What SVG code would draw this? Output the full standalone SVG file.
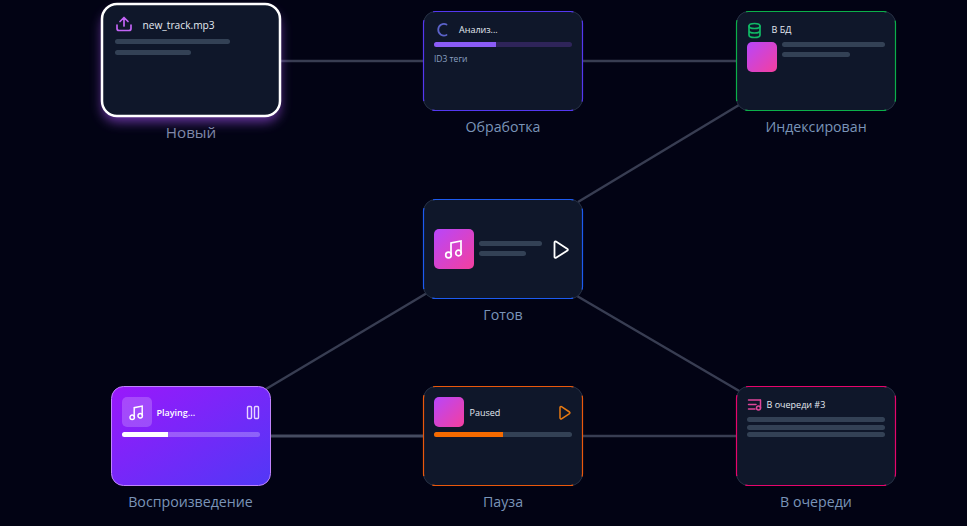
<svg xmlns="http://www.w3.org/2000/svg" width="967" height="526" viewBox="0 0 967 526">
<defs>
<linearGradient id="thumb" x1="0" y1="0" x2="1" y2="1"><stop offset="0" stop-color="#b846fb"/><stop offset="1" stop-color="#f43f9e"/></linearGradient>
<linearGradient id="play" x1="0" y1="0" x2="1" y2="1"><stop offset="0" stop-color="#9a18fb"/><stop offset="1" stop-color="#5138f6"/></linearGradient>
<filter id="glow" x="-30%" y="-30%" width="160%" height="160%"><feGaussianBlur stdDeviation="6"/></filter>
<g id="note"><path d="M-3.500 6V-6L6.500 -8V4" fill="none"/><circle cx="-6" cy="6" r="2.800" fill="none"/><circle cx="4" cy="4" r="2.800" fill="none"/></g>
</defs>
<style>
text{font-family:"Open Sans","Noto Sans","Liberation Sans",sans-serif}
.card{fill:#0f172a;stroke:#263044;stroke-width:1}
.side{fill:none;stroke-width:1.200;stroke-dasharray:141 12.850 81 12.850;stroke-dashoffset:3}
.bar{fill:#334155}
.lbl{font-size:14.200px;fill:#7a94b8;text-anchor:middle}
.t{font-size:9.500px;fill:#e4e9f1;font-weight:500}
.ic{fill:none;stroke-width:1.700;stroke-linecap:round;stroke-linejoin:round}
.edge{stroke:#383d52;stroke-width:2.500;fill:none}
</style>
<rect width="967" height="526" fill="#020314"/>
<g id="connectors">
<path class="edge" d="M281 61H423"/>
<path class="edge" d="M583 61H736"/>
<path class="edge" d="M578 202L739 105"/>
<path class="edge" d="M427 293L266 389"/>
<path class="edge" d="M577 296L741 392"/>
<path class="edge" d="M271 436H423" style="stroke:#454b60;stroke-width:3"/>
<path class="edge" d="M583 436H736"/>
</g>
<g id="node-new">
<rect x="102" y="12" width="178" height="110" rx="15" fill="#a855f7" opacity=".6" filter="url(#glow)"/>
<rect class="card" x="102" y="4" width="178" height="112" rx="15" style="stroke:#fff;stroke-width:2.500"/>
<g class="ic" stroke="#c264f5"><path d="M117 25v3.500a2 2 0 0 0 2 2h10a2 2 0 0 0 2-2V25M124 26V18M120 21.500l4-4 4 4"/></g>
<text class="t" x="142.500" y="29" style="font-size:10.200px;font-weight:400">new_track.mp3</text>
<rect class="bar" x="115" y="39" width="115" height="5" rx="2.500"/>
<rect class="bar" x="115" y="50" width="76" height="5" rx="2.500"/>
<text class="lbl" x="191" y="138" style="font-size:15.200px;fill:#7f87a8">Новый</text>
</g>
<g id="node-processing">
<rect class="card" x="423.500" y="11.500" width="159" height="99" rx="12"/>
<rect class="side" x="423.500" y="11.500" width="159" height="99" rx="12" stroke="#5438f0"/>
<path class="ic" stroke="#5b62c9" d="M446.500 24.500A5.800 5.800 0 1 0 446.500 35" style="stroke-width:1.800"/>
<text class="t" x="459" y="33" style="font-size:9px">Анализ...</text>
<rect x="434" y="42" width="138" height="5" rx="2.500" fill="#2e2459"/>
<path d="M436.500 42H496V47H436.500a2.500 2.500 0 0 1 0-5z" fill="#8b5cf6"/>
<text x="434" y="62" style="font-size:8.500px" fill="#8aa0c2">ID3 теги</text>
<text class="lbl" x="503" y="132">Обработка</text>
</g>
<g id="node-indexed">
<rect class="card" x="736.500" y="11.500" width="159" height="99" rx="12"/>
<rect class="side" x="736.500" y="11.500" width="159" height="99" rx="12" stroke="#0bb04a"/>
<g class="ic" stroke="#10b965"><ellipse cx="754.500" cy="26" rx="5.500" ry="2.500"/><path d="M749 26v9c0 1.400 2.500 2.500 5.500 2.500s5.500-1.100 5.500-2.500v-9M749 30.500c0 1.400 2.500 2.500 5.500 2.500s5.500-1.100 5.500-2.500"/></g>
<text class="t" x="771.500" y="33" style="font-size:9px">В БД</text>
<rect x="747" y="42" width="30" height="30" rx="5" fill="url(#thumb)"/>
<rect class="bar" x="782" y="42" width="103" height="5" rx="2.500"/>
<rect class="bar" x="782" y="52" width="68" height="5" rx="2.500"/>
<text class="lbl" x="816" y="132">Индексирован</text>
</g>
<g id="node-ready">
<rect class="card" x="423.500" y="199.500" width="159" height="99" rx="12"/>
<rect class="side" x="423.500" y="199.500" width="159" height="99" rx="12" stroke="#1d5bf0"/>
<rect x="434" y="229" width="40" height="40" rx="5" fill="url(#thumb)"/>
<use href="#note" x="454.500" y="249" stroke="#fff" stroke-width="1.700"/>
<rect class="bar" x="479" y="241" width="63" height="5" rx="2.500"/>
<rect class="bar" x="479" y="251" width="47" height="5" rx="2.500"/>
<path class="ic" stroke="#fff" d="M554.500 242.500v14.500a1 1 0 0 0 1.500.8l11.500-7.300a1 1 0 0 0 0-1.600L556 241.600a1 1 0 0 0-1.500.9z" style="stroke-width:1.800"/>
<text class="lbl" x="503" y="320">Готов</text>
</g>
<g id="node-playing">
<rect x="111.500" y="386.500" width="159" height="99" rx="12" fill="url(#play)" stroke="#c084fc"/>
<rect x="122" y="397" width="30" height="30" rx="5" fill="#fff" fill-opacity=".2"/>
<use href="#note" transform="translate(137 412.500) scale(.8)" stroke="#fff" stroke-width="1.800"/>
<text x="156.500" y="416" style="font-size:9px;font-weight:600" fill="#fff">Playing...</text>
<rect x="247.500" y="406.500" width="4" height="12" rx="1" fill="none" stroke="#e9d5ff" stroke-width="1.400"/>
<rect x="254.500" y="406.500" width="4" height="12" rx="1" fill="none" stroke="#e9d5ff" stroke-width="1.400"/>
<rect x="122" y="432" width="138" height="5" rx="2.500" fill="#fff" fill-opacity=".25"/>
<path d="M124.500 432H168V437H124.500a2.500 2.500 0 0 1 0-5z" fill="#fff"/>
<text class="lbl" x="190.500" y="507">Воспроизведение</text>
</g>
<g id="node-paused">
<rect class="card" x="423.500" y="386.500" width="159" height="99" rx="12"/>
<rect class="side" x="423.500" y="386.500" width="159" height="99" rx="12" stroke="#ea580c"/>
<rect x="434" y="397" width="30" height="30" rx="5" fill="url(#thumb)"/>
<text class="t" x="469.500" y="416" style="font-size:9px">Paused</text>
<path class="ic" stroke="#e87a12" d="M560 407.500v10.500a1 1 0 0 0 1.500.8l8-5.200a1 1 0 0 0 0-1.600l-8-5.300a1 1 0 0 0-1.500.8z" style="stroke-width:1.500"/>
<rect class="bar" x="434" y="432" width="138" height="5" rx="2.500"/>
<path d="M436.500 432H503V437H436.500a2.500 2.500 0 0 1 0-5z" fill="#f56a00"/>
<text class="lbl" x="503" y="507">Пауза</text>
</g>
<g id="node-queued">
<rect class="card" x="736.500" y="386.500" width="159" height="99" rx="12"/>
<rect class="side" x="736.500" y="386.500" width="159" height="99" rx="12" stroke="#e6056c"/>
<g class="ic" stroke="#e0469a" style="stroke-width:1.500"><path d="M748.500 400H760M748.500 404.500H756M748.500 409H755"/><path d="M760.500 400v8"/><circle cx="758.500" cy="408" r="2"/></g>
<text class="t" x="766.500" y="408" style="font-size:9px">В очереди #3</text>
<rect class="bar" x="747" y="417" width="138" height="5" rx="2.500"/>
<rect class="bar" x="747" y="425" width="138" height="5" rx="2.500"/>
<rect class="bar" x="747" y="432" width="138" height="5" rx="2.500"/>
<text class="lbl" x="816" y="507">В очереди</text>
</g>
</svg>
